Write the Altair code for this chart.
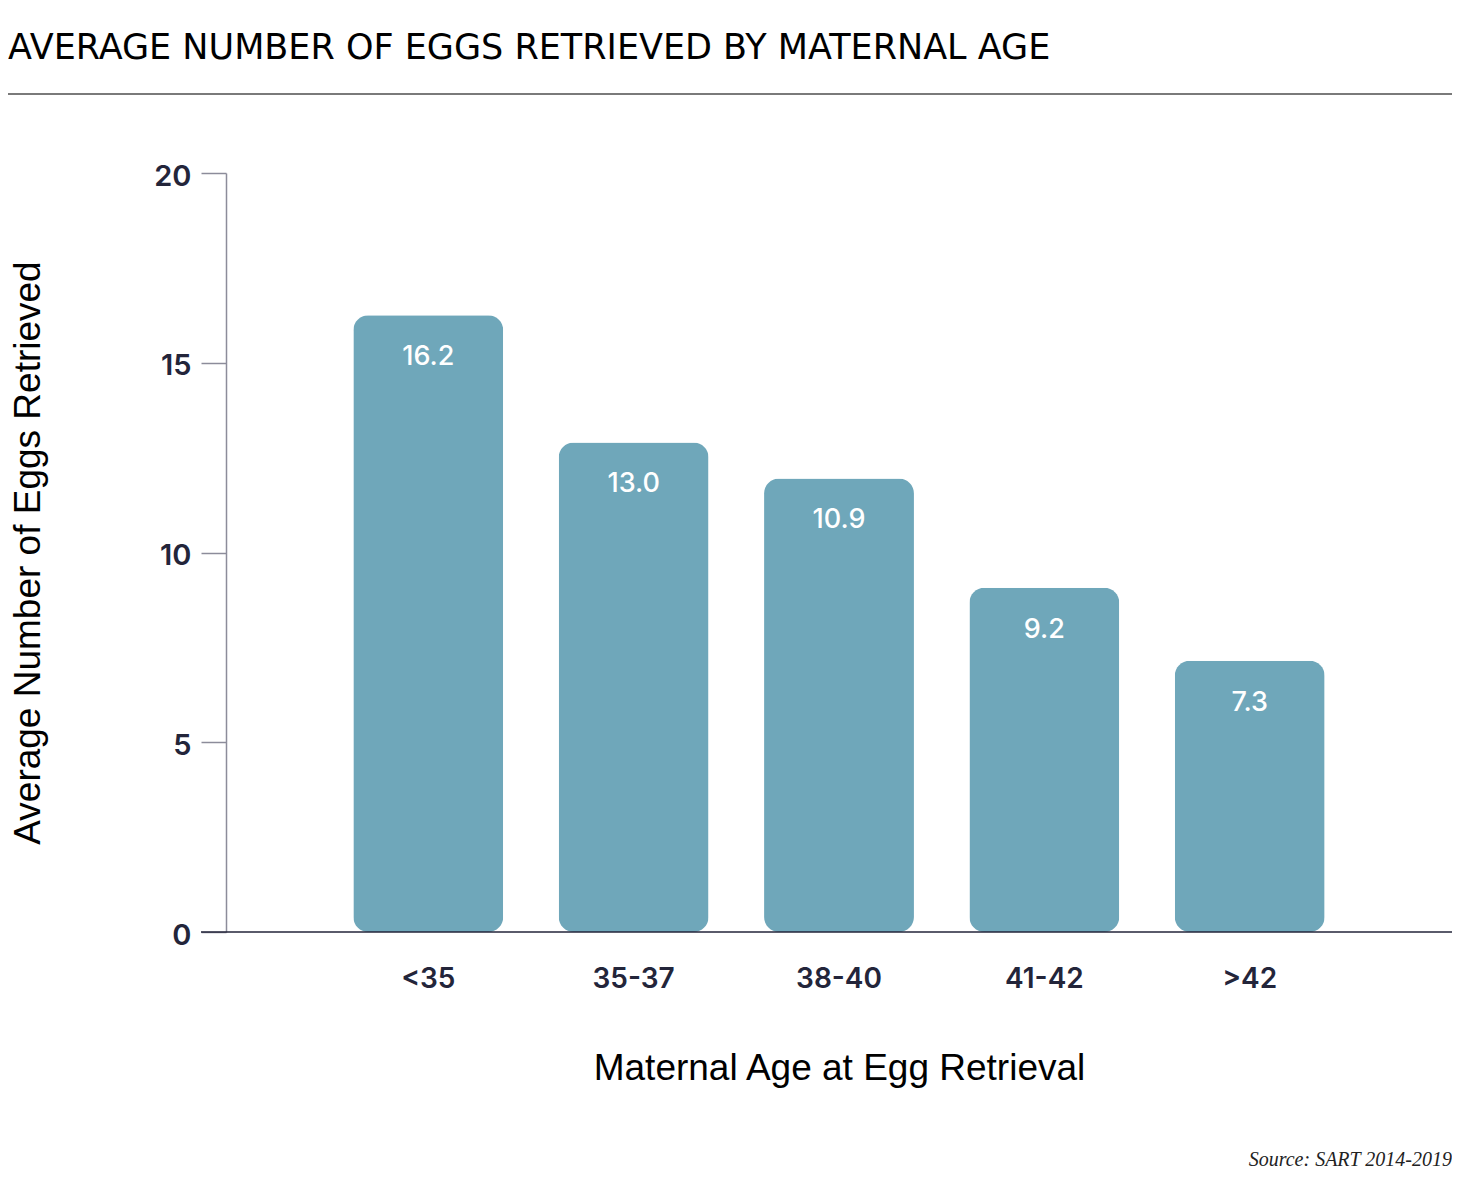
import altair as alt
import pandas as pd

ages = ["<35", "35-37", "38-40", "41-42", ">42"]
bar_values = [16.25, 12.9, 11.95, 9.07, 7.15]
bar_labels = ["16.2", "13.0", "10.9", "9.2", "7.3"]
y_ticks = [0, 5, 10, 15, 20]

title_text = "AVERAGE NUMBER OF EGGS RETRIEVED BY MATERNAL AGE"
source_text = "Source: SART 2014-2019"

W = 1226
H = 759
PAD_L = 218
PAD_T = 165
TOTAL_H = 1187

df = pd.DataFrame({"age": ages, "value": bar_values, "label": bar_labels})
one = pd.DataFrame({"t": [title_text], "s": [source_text]})

BAR = "#6FA7BA"
DARK = "#23253A"
GRAY = "#8C8C9A"

x_enc = alt.X(
    "age:N",
    sort=ages,
    scale=alt.Scale(paddingInner=0.27, paddingOuter=0.62),
    axis=alt.Axis(
        title="Maternal Age at Egg Retrieval",
        ticks=False,
        domain=False,
        labelAngle=0,
        labelFont="Inter",
        labelFontSize=28,
        labelFontWeight=600,
        labelColor=DARK,
        labelPadding=33,
        titleFont="Liberation Sans",
        titleFontSize=37,
        titleFontWeight="normal",
        titleColor="#000000",
        titleX=W / 2,
        titleY=136,
        titleBaseline="middle",
        titleAlign="center",
    ),
)

y_enc = alt.Y(
    "value:Q",
    scale=alt.Scale(domain=[0, 20], nice=False),
    axis=alt.Axis(
        title="Average Number of Eggs Retrieved",
        values=y_ticks,
        grid=False,
        domainColor=GRAY,
        domainWidth=1.5,
        tickColor=GRAY,
        tickWidth=1.5,
        tickSize=25,
        labelFont="Inter",
        labelFontSize=29,
        labelFontWeight=600,
        labelColor=DARK,
        labelPadding=10,
        labelBaseline="middle",
        labelOffset=3,
        titleFont="Liberation Sans",
        titleFontSize=37,
        titleFontWeight="normal",
        titleColor="#000000",
        titleAngle=-90,
        titleX=-198,
        titleY=H / 2,
        titleBaseline="middle",
        titleAlign="center",
    ),
)

bars = alt.Chart(df).mark_bar(color=BAR, cornerRadius=15).encode(x=x_enc, y=y_enc)

labels = alt.Chart(df).mark_text(
    color="white", font="Inter", fontSize=27, fontWeight=500, dy=42, baseline="middle"
).encode(x=alt.X("age:N", sort=ages), y="value:Q", text="label:N")

baseline = alt.Chart(one).mark_rule(color=DARK, strokeWidth=1.5).encode(
    x=alt.value(-25), x2=alt.value(W), y=alt.value(H)
)

top_line = alt.Chart(one).mark_rule(color="#7A7A7A", strokeWidth=2).encode(
    x=alt.value(-PAD_L), x2=alt.value(W), y=alt.value(-79)
)

title = alt.Chart(one).mark_text(
    font="DejaVu Sans", fontSize=35, color="#000000",
    align="left", baseline="alphabetic"
).encode(x=alt.value(-PAD_L), y=alt.value(-114), text="t:N")

source = alt.Chart(one).mark_text(
    font="Liberation Serif", fontSize=20, fontStyle="italic", color="#222222",
    align="right", baseline="middle"
).encode(x=alt.value(W), y=alt.value(987), text="s:N")

chart = alt.layer(bars, labels, baseline, top_line, title, source).properties(
    width=W,
    height=H,
    autosize=alt.AutoSizeParams(type="none"),
    padding={"left": PAD_L, "top": PAD_T, "right": 0, "bottom": TOTAL_H - PAD_T - H},
).configure_view(stroke=None)

chart.save("out.html", embed_options={"renderer": "svg", "actions": False})
